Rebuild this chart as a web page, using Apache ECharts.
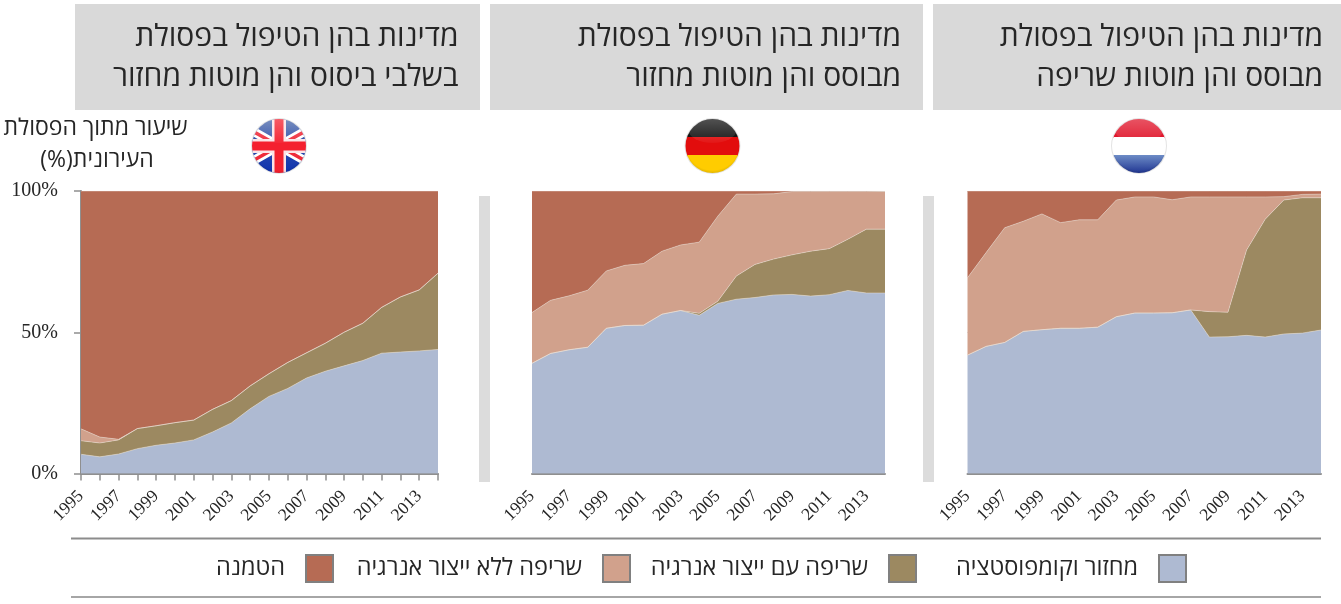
<!DOCTYPE html>
<html><head><meta charset="utf-8">
<style>html,body{margin:0;padding:0;background:#fff}#c{width:1341px;height:604px}</style>
<script src="https://cdn.jsdelivr.net/npm/echarts@6/dist/echarts.min.js"></script>
</head><body><div id="c"></div>
<script>
const years = ['1995','1996','1997','1998','1999','2000','2001','2002','2003','2004','2005','2006','2007','2008','2009','2010','2011','2012','2013','2014'];
const seriesNames = ['מחזור וקומפוסטציה','שריפה עם ייצור אנרגיה','שריפה ללא ייצור אנרגיה','הטמנה'];
const yTicks = '{value}%';
const colors = ['#aebad2','#9c8961','#d1a18c','#b66b54'];

const ukRecycling = [6.8,5.9,6.9,8.8,10,10.8,11.9,14.7,17.9,22.9,27.3,30.1,33.8,36.2,38.1,40,42.6,43,43.4,43.9];
const ukEnergy = [4.8,4.9,5,7.1,6.9,7.2,7,8,7.9,8.1,8,9.2,8.9,9.9,11.9,13.2,16.2,19.5,21.6,27];
const ukNoEnergy = [4.2,2.1,0.2,0,0,0,0,0,0,0,0,0,0,0,0,0,0,0,0,0];
const ukLandfill = [84.2,87.1,87.9,84.1,83.1,82,81.1,77.3,74.2,69,64.7,60.7,57.3,53.9,50,46.8,41.2,37.5,35,29.1];

const deRecycling = [39,42.5,43.8,44.7,51.4,52.4,52.5,56.4,57.7,56,60.2,61.7,62.3,63.2,63.4,62.8,63.3,64.8,63.9,63.9];
const deEnergy = [0,0,0,0,0,0,0,0,0,0.7,0.8,8.2,11.7,12.7,14,15.9,16.3,18.1,22.6,22.6];
const deNoEnergy = [18,18.8,19.1,20.2,20.3,21.3,21.8,22.3,23.2,25.2,30.1,29,24.9,23.1,22.4,21.1,20.2,16.9,13.3,13.3];
const deLandfill = [43,38.7,37.1,35.1,28.3,26.3,25.7,21.3,19.1,18.1,8.9,1.1,1.1,1,0.2,0.2,0.2,0.2,0.2,0.2];

const nlRecycling = [41.9,45,46.4,50.3,50.9,51.4,51.4,51.8,55.5,56.8,56.8,56.9,57.9,48.3,48.4,48.9,48.3,49.4,49.7,50.8];
const nlEnergy = [0,0,0,0,0,0,0,0,0,0,0,0,0,9,8.7,30.2,41.7,47.4,47.9,46.8];
const nlNoEnergy = [27.4,33.2,40.6,39,41,37.4,38.4,38,41.3,41.1,41.1,40,40,40.6,40.8,18.8,7.9,1.2,1.2,1.3];
const nlLandfill = [30.7,21.8,13,10.7,8.1,11.2,10.2,10.2,3.2,2.1,2.1,3.1,2.1,2.1,2.1,2.1,2.1,2,1.2,1.1];

const headerUK = ['מדינות בהן הטיפול בפסולת','בשלבי ביסוס והן מוטות מחזור'];
const headerDE = ['מדינות בהן הטיפול בפסולת','מבוסס והן מוטות מחזור'];
const headerNL = ['מדינות בהן הטיפול בפסולת','מבוסס והן מוטות שריפה'];
const yTitle = ['שיעור מתוך הפסולת','העירונית(%)\u200f'];

const HEB = '"Open Sans","Liberation Sans",sans-serif';
const NUM = '"Liberation Serif",serif';
const AXIS = '#8f8f8f';

const panels = [
  {left:81,width:357,rows:[ukRecycling,ukEnergy,ukNoEnergy,ukLandfill],main:true},
  {left:532,width:353,rows:[deRecycling,deEnergy,deNoEnergy,deLandfill],main:false},
  {left:967.5,width:353.5,rows:[nlRecycling,nlEnergy,nlNoEnergy,nlLandfill],main:false}
];

function wrap(inner){
  const svg = `<svg xmlns="http://www.w3.org/2000/svg" width="60" height="60" viewBox="0 0 60 60"><defs><clipPath id="k"><circle cx="30" cy="30" r="27"/></clipPath>
  <linearGradient id="g" x1="0" y1="0" x2="0" y2="1"><stop offset="0" stop-color="#fff" stop-opacity=".28"/><stop offset="1" stop-color="#fff" stop-opacity=".04"/></linearGradient>
  <linearGradient id="b" x1="0" y1="0" x2="0" y2="1"><stop offset="0" stop-color="#6d8cc6"/><stop offset="1" stop-color="#14288a"/></linearGradient>
  <linearGradient id="u" x1="0" y1="0" x2="0" y2="1"><stop offset="0" stop-color="#4d6aa8"/><stop offset="1" stop-color="#0b2fb0"/></linearGradient>
  <radialGradient id="s" cx=".5" cy=".45" r=".55"><stop offset=".82" stop-color="#000" stop-opacity="0"/><stop offset="1" stop-color="#000" stop-opacity=".22"/></radialGradient></defs>
  <circle cx="30" cy="30" r="28" fill="#e4e4e4"/><g clip-path="url(#k)">${inner}<rect width="60" height="60" fill="url(#s)"/><ellipse cx="30" cy="14" rx="24" ry="13" fill="url(#g)"/></g></svg>`;
  return 'data:image/svg+xml;charset=utf-8,'+encodeURIComponent(svg);
}
const flagUK = wrap(`<rect width="60" height="60" fill="url(#u)"/><path d="M0 13L60 47M60 13L0 47" stroke="#fff" stroke-width="9"/><path d="M0 13L60 47M60 13L0 47" stroke="#ef2b3a" stroke-width="3.5"/><path d="M30 0V60M0 30H60" stroke="#fbe3e6" stroke-width="14"/><path d="M30 0V60M0 30H60" stroke="#f4202f" stroke-width="9"/>`);
const flagDE = wrap(`<rect width="60" height="22" fill="#141414"/><rect y="21" width="60" height="19" fill="#e20d0d"/><rect y="39" width="60" height="21" fill="#ffcc00"/>`);
const flagNL = wrap(`<rect width="60" height="22" fill="#e0162b"/><rect y="21" width="60" height="18.5" fill="#fff"/><rect y="39" width="60" height="21" fill="url(#b)"/>`);

const graphics = [];
const rect = (x,y,w,h,fill)=>graphics.push({type:'rect',silent:true,z:1,shape:{x,y,width:w,height:h},style:{fill}});
const text = (t,x,y,size,align)=>graphics.push({type:'text',silent:true,z:5,style:{text:t,x,y,align,verticalAlign:'middle',font:`${size}px ${HEB}`,fill:'#262626'}});

[[75,405,458.5,headerUK],[490,433,901,headerDE],[933,408,1323,headerNL]].forEach(([x,w,tx,lines])=>{
  rect(x,4,w,106,'#d9d9d9');
  text(lines[0],tx,37,30,'right');
  text(lines[1],tx,77,30,'right');
});
rect(479,196,11,286,'#dcdcdc');
rect(923,196,11,286,'#dcdcdc');
rect(71,537.5,1250,2,'#8c8c8c');
rect(71,596,1250,2,'#a6a6a6');
text(yTitle[0],95.5,128,23,'center');
text(yTitle[1],97,160,23,'center');
[[flagUK,249],[flagDE,682.5],[flagNL,1109]].forEach(([image,x])=>{
  graphics.push({type:'image',silent:true,z:5,style:{image,x,y:116,width:60,height:60}});
});

const grids=[],xAxes=[],yAxes=[],series=[];
panels.forEach((p,i)=>{
  grids.push({left:p.left,width:p.width,top:191,height:282.5,containLabel:false});
  xAxes.push({type:'category',gridIndex:i,data:years,boundaryGap:false,
    axisLine:{onZero:false,lineStyle:{color:AXIS,width:2}},
    axisTick:{show:p.main,alignWithLabel:true,interval:0,length:7,lineStyle:{color:AXIS,width:1.5}},
    axisLabel:{interval:1,rotate:45,margin:20,fontFamily:NUM,fontSize:17.5,color:'#262626',hideOverlap:false},
    splitLine:{show:false}});
  yAxes.push({type:'value',gridIndex:i,min:0,max:100,interval:50,
    axisLine:{show:p.main,lineStyle:{color:AXIS,width:2}},
    axisTick:{show:p.main,length:7,lineStyle:{color:AXIS,width:1.5}},
    axisLabel:{show:p.main,formatter:yTicks,margin:23,padding:[3,0,0,0],fontFamily:NUM,fontSize:20,color:'#262626'},
    splitLine:{show:true,lineStyle:{color:p.main?AXIS:'#c4c4c4',width:1}}});
  seriesNames.forEach((n,k)=>{
    series.push({type:'line',name:n,xAxisIndex:i,yAxisIndex:i,stack:'s'+i,data:p.rows[k],
      symbol:'none',smooth:false,z:3,
      lineStyle:{width:0.6,color:'#e9e2d6',opacity:0.8},
      itemStyle:{color:colors[k]},
      areaStyle:{color:colors[k],opacity:1},
      emphasis:{disabled:true}});
  });
});

const legendRight = [1187,917,631,334];
const legends = seriesNames.map((n,k)=>({
  data:[n],orient:'horizontal',top:554,right:1341-legendRight[k],align:'right',
  selectedMode:false,icon:'rect',itemWidth:27,itemHeight:27,padding:0,
  itemStyle:{color:colors[k],borderColor:'#808080',borderWidth:2},
  lineStyle:{width:0},
  textStyle:{fontFamily:HEB,fontSize:23.5,color:'#262626',padding:[0,16,0,0]}
}));

const chart = echarts.init(document.getElementById('c'),null,{renderer:'canvas'});
chart.setOption({animation:false,backgroundColor:'#fff',tooltip:{show:false},
  grid:grids,xAxis:xAxes,yAxis:yAxes,series,legend:legends,graphic:graphics});
</script></body></html>
